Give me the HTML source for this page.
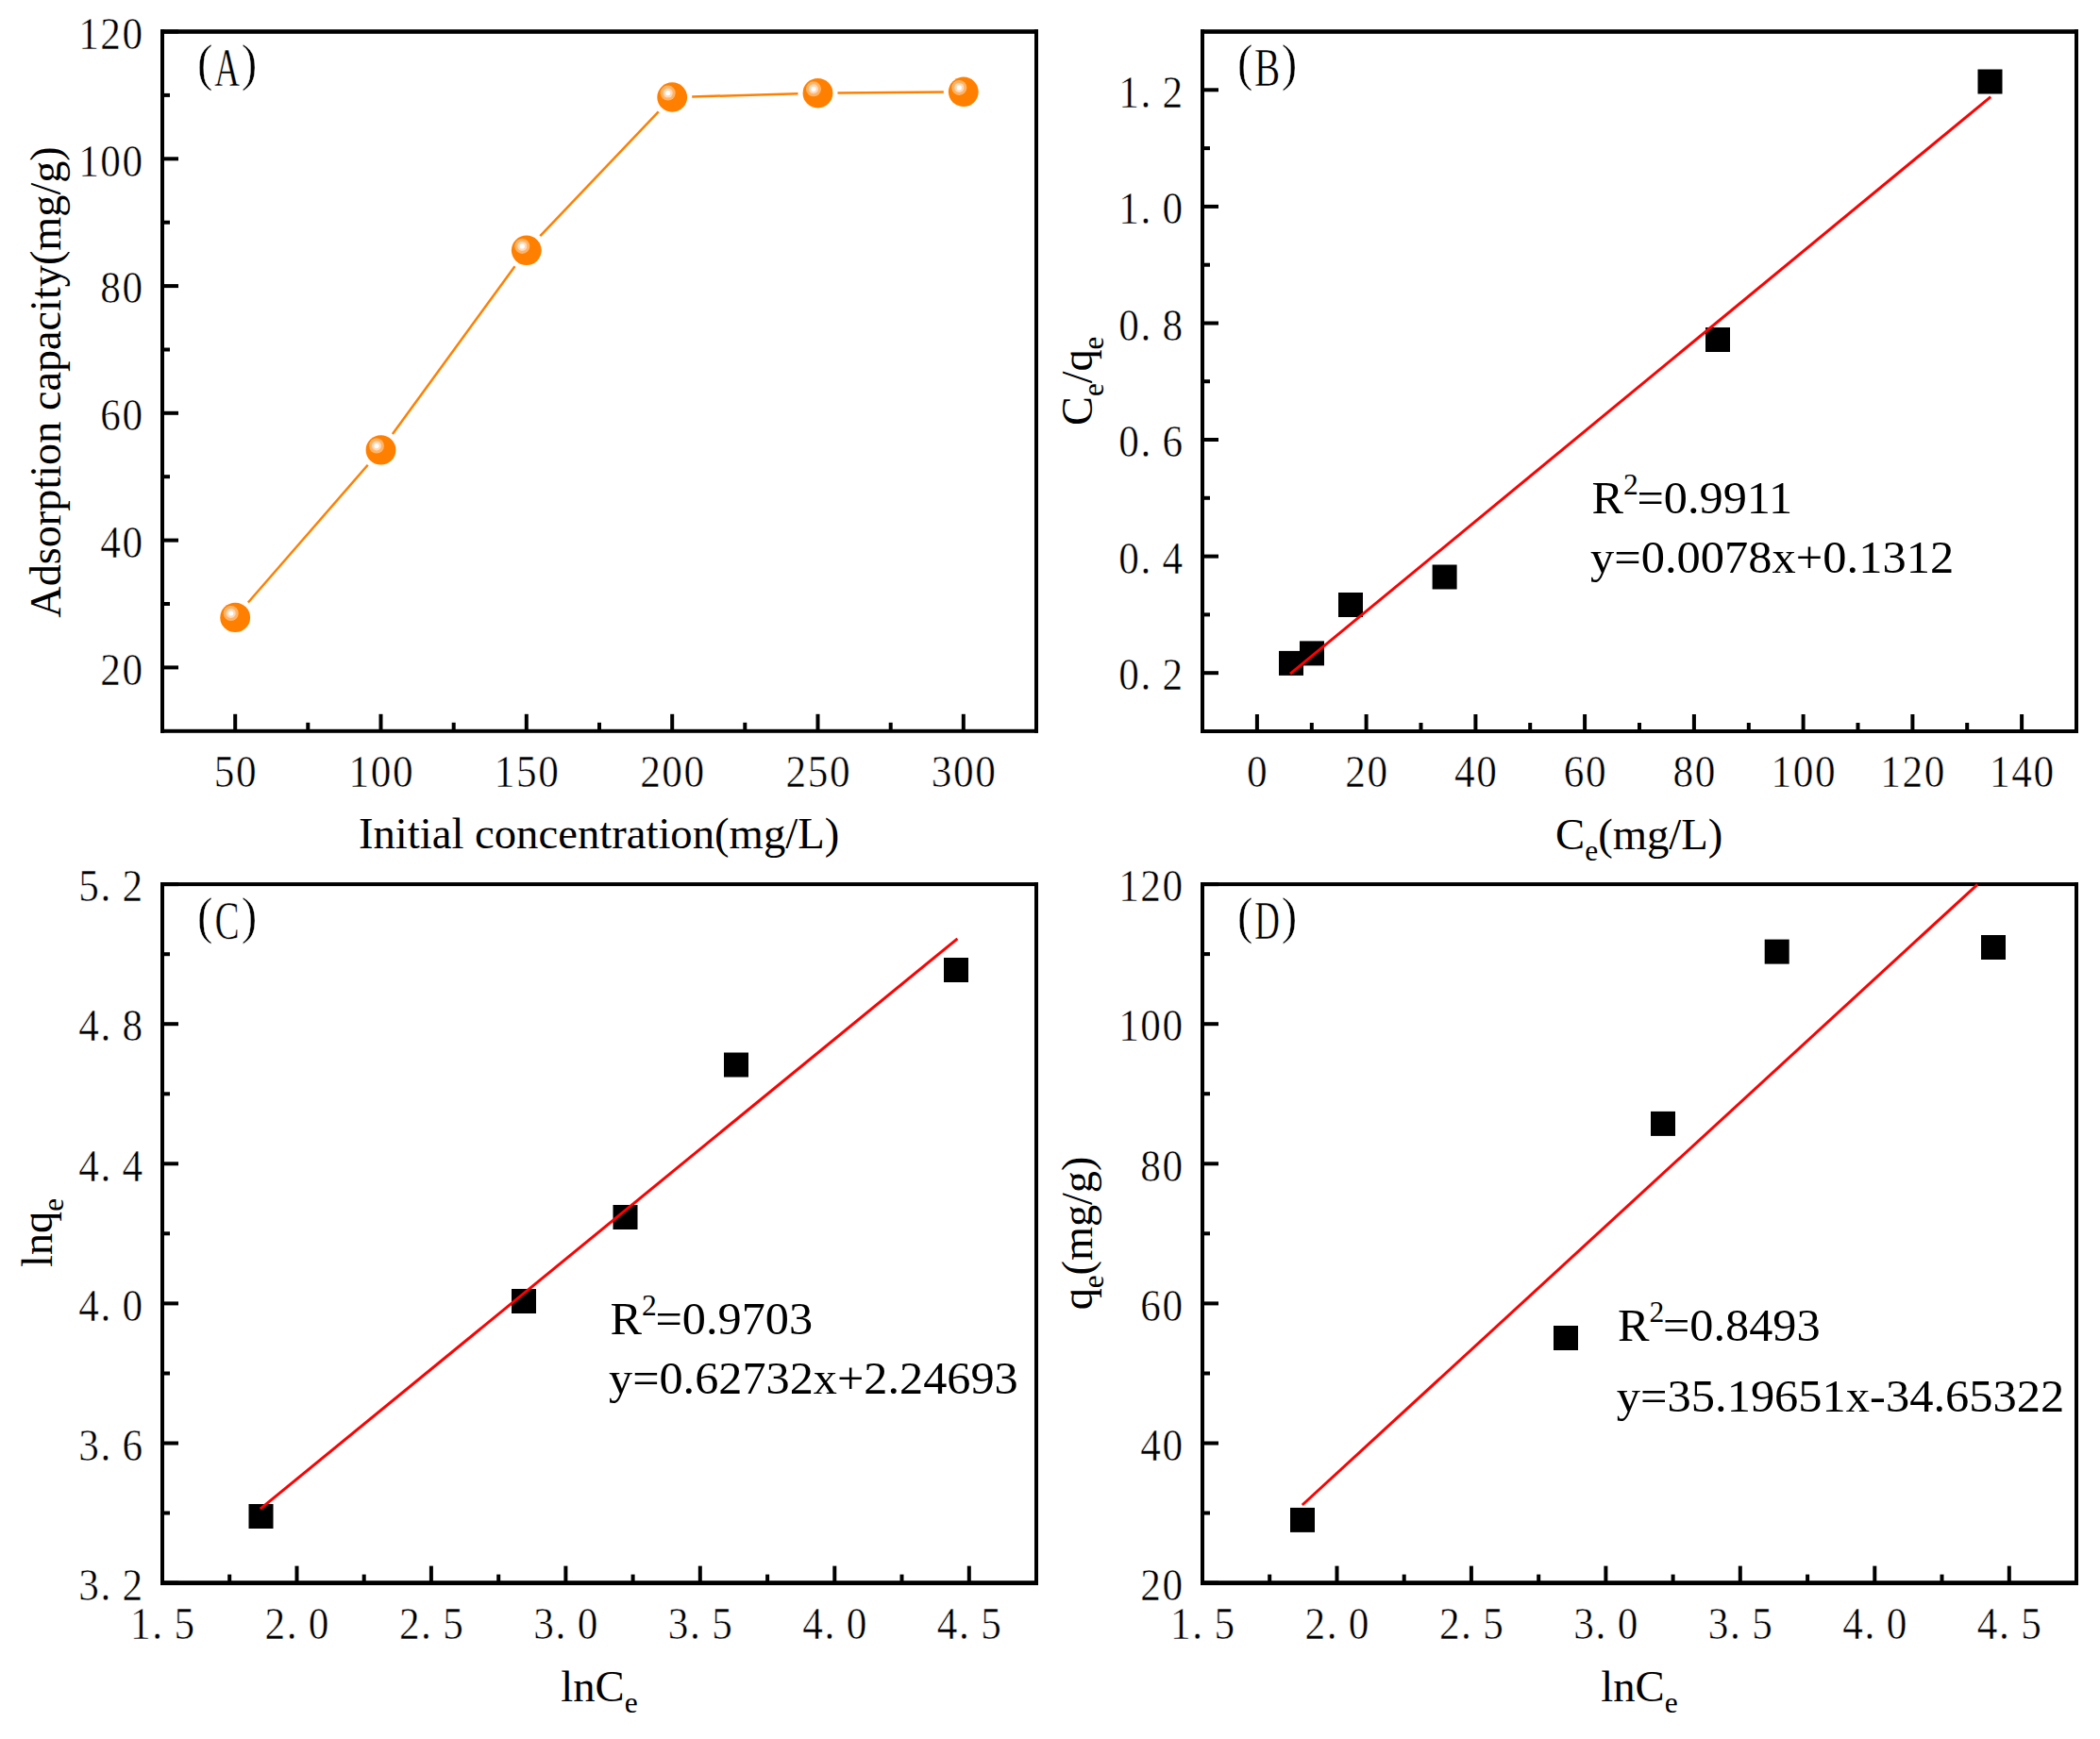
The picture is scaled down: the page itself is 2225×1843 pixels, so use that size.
<!DOCTYPE html>
<html><head><meta charset="utf-8"><title>Adsorption isotherm</title>
<style>
html,body{margin:0;padding:0;background:#fff;}
svg{display:block;}
.tk{font-family:"Liberation Serif", serif;font-size:47.8px;fill:#000;stroke:#fff;stroke-width:0.5px;}
.tag{font-family:"Liberation Serif", serif;font-size:56px;fill:#000;stroke:#fff;stroke-width:0.5px;}
.ax{font-family:"Liberation Serif", serif;font-size:45.9px;fill:#000;}
.sub{font-size:31px;}
.sup{font-size:31px;}
.an{font-family:"Liberation Serif", serif;font-size:49.4px;fill:#000;}
</style></head><body>
<svg width="2225" height="1843" viewBox="0 0 2225 1843">
<rect width="2225" height="1843" fill="#fff"/>

<line x1="262.9" y1="638.5" x2="389.7" y2="492.8" stroke="#ff8000" stroke-width="2.5"/>
<line x1="415.9" y1="460.0" x2="545.5" y2="282.3" stroke="#ff8000" stroke-width="2.5"/>
<line x1="572.3" y1="250.1" x2="697.7" y2="118.3" stroke="#ff8000" stroke-width="2.5"/>
<line x1="733.2" y1="102.5" x2="845.5" y2="99.3" stroke="#ff8000" stroke-width="2.5"/>
<line x1="887.5" y1="98.5" x2="999.8" y2="97.5" stroke="#ff8000" stroke-width="2.5"/>
<ellipse cx="249.2" cy="654.4" rx="15.9" ry="15.7" fill="#ff8000"/>
<circle cx="244.7" cy="650.0" r="8" fill="#ffb366"/>
<circle cx="244.7" cy="650.0" r="5" fill="#ffd9b8"/>
<circle cx="244.7" cy="650.0" r="2.6" fill="#fff"/>
<ellipse cx="403.5" cy="476.9" rx="15.9" ry="15.7" fill="#ff8000"/>
<circle cx="399.0" cy="472.5" r="8" fill="#ffb366"/>
<circle cx="399.0" cy="472.5" r="5" fill="#ffd9b8"/>
<circle cx="399.0" cy="472.5" r="2.6" fill="#fff"/>
<ellipse cx="557.8" cy="265.3" rx="15.9" ry="15.7" fill="#ff8000"/>
<circle cx="553.3" cy="260.9" r="8" fill="#ffb366"/>
<circle cx="553.3" cy="260.9" r="5" fill="#ffd9b8"/>
<circle cx="553.3" cy="260.9" r="2.6" fill="#fff"/>
<ellipse cx="712.2" cy="103.0" rx="15.9" ry="15.7" fill="#ff8000"/>
<circle cx="707.7" cy="98.6" r="8" fill="#ffb366"/>
<circle cx="707.7" cy="98.6" r="5" fill="#ffd9b8"/>
<circle cx="707.7" cy="98.6" r="2.6" fill="#fff"/>
<ellipse cx="866.5" cy="98.7" rx="15.9" ry="15.7" fill="#ff8000"/>
<circle cx="862.0" cy="94.3" r="8" fill="#ffb366"/>
<circle cx="862.0" cy="94.3" r="5" fill="#ffd9b8"/>
<circle cx="862.0" cy="94.3" r="2.6" fill="#fff"/>
<ellipse cx="1020.8" cy="97.3" rx="15.9" ry="15.7" fill="#ff8000"/>
<circle cx="1016.3" cy="92.9" r="8" fill="#ffb366"/>
<circle cx="1016.3" cy="92.9" r="5" fill="#ffd9b8"/>
<circle cx="1016.3" cy="92.9" r="2.6" fill="#fff"/>
<rect x="170" y="31.2" width="930" height="4.6" fill="#000"/>
<rect x="170" y="772.8" width="930" height="4.0" fill="#000"/>
<rect x="170" y="31.2" width="4" height="745.6" fill="#000"/>
<rect x="1096" y="31.2" width="4" height="745.6" fill="#000"/>
<rect x="247.2" y="756.8" width="4" height="18" fill="#000"/>
<rect x="401.5" y="756.8" width="4" height="18" fill="#000"/>
<rect x="555.8" y="756.8" width="4" height="18" fill="#000"/>
<rect x="710.2" y="756.8" width="4" height="18" fill="#000"/>
<rect x="864.5" y="756.8" width="4" height="18" fill="#000"/>
<rect x="1018.8" y="756.8" width="4" height="18" fill="#000"/>
<rect x="324.3" y="765.8" width="4" height="9" fill="#000"/>
<rect x="478.7" y="765.8" width="4" height="9" fill="#000"/>
<rect x="633.0" y="765.8" width="4" height="9" fill="#000"/>
<rect x="787.3" y="765.8" width="4" height="9" fill="#000"/>
<rect x="941.7" y="765.8" width="4" height="9" fill="#000"/>
<text class="tk" transform="scale(0.905,1)" x="250.55 276.19" y="833.8">50</text>
<text class="tk" transform="scale(0.905,1)" x="408.27 433.91 459.54" y="833.8">100</text>
<text class="tk" transform="scale(0.905,1)" x="578.81 604.44 630.08" y="833.8">150</text>
<text class="tk" transform="scale(0.905,1)" x="749.34 774.97 800.61" y="833.8">200</text>
<text class="tk" transform="scale(0.905,1)" x="919.87 945.51 971.14" y="833.8">250</text>
<text class="tk" transform="scale(0.905,1)" x="1090.41 1116.04 1141.68" y="833.8">300</text>
<rect x="172" y="705.4" width="17" height="4" fill="#000"/>
<rect x="172" y="570.6" width="17" height="4" fill="#000"/>
<rect x="172" y="435.8" width="17" height="4" fill="#000"/>
<rect x="172" y="301.1" width="17" height="4" fill="#000"/>
<rect x="172" y="166.3" width="17" height="4" fill="#000"/>
<rect x="172" y="31.5" width="17" height="4" fill="#000"/>
<rect x="172" y="638.0" width="8" height="4" fill="#000"/>
<rect x="172" y="503.2" width="8" height="4" fill="#000"/>
<rect x="172" y="368.5" width="8" height="4" fill="#000"/>
<rect x="172" y="233.7" width="8" height="4" fill="#000"/>
<rect x="172" y="98.9" width="8" height="4" fill="#000"/>
<text class="tk" transform="scale(0.905,1)" x="117.55 143.19" y="725.7">20</text>
<text class="tk" transform="scale(0.905,1)" x="117.55 143.19" y="590.9">40</text>
<text class="tk" transform="scale(0.905,1)" x="117.55 143.19" y="456.1">60</text>
<text class="tk" transform="scale(0.905,1)" x="117.55 143.19" y="321.4">80</text>
<text class="tk" transform="scale(0.905,1)" x="91.92 117.55 143.19" y="186.6">100</text>
<text class="tk" transform="scale(0.905,1)" x="91.92 117.55 143.19" y="51.8">120</text>
<g class="tag"><text style="font-size:55px" transform="translate(225.4,85.3) scale(0.9,1)" text-anchor="end">(</text><text transform="translate(240.6,91.0) scale(0.66,1)" text-anchor="middle">A</text><text style="font-size:55px" transform="translate(255.8,85.3) scale(0.9,1)" text-anchor="start">)</text></g>
<text class="ax" transform="translate(634.6,899.4) scale(1.017,1)" text-anchor="middle">Initial concentration(mg/L)</text>
<text class="ax" transform="translate(63.5,405.0) rotate(-90) scale(1,1.01)" style="font-size:46.25px" text-anchor="middle">Adsorption capacity(mg/g)</text>
<rect x="1355.0" y="689.9" width="26" height="26" fill="#000"/>
<rect x="1377.0" y="679.4" width="26" height="26" fill="#000"/>
<rect x="1418.0" y="628.0" width="26" height="26" fill="#000"/>
<rect x="1517.6" y="598.5" width="26" height="26" fill="#000"/>
<rect x="1807.0" y="347.0" width="26" height="26" fill="#000"/>
<rect x="2095.5" y="73.5" width="26" height="26" fill="#000"/>
<line x1="1367.0" y1="714.2" x2="2109.2" y2="102.6" stroke="#ff0000" stroke-width="3"/>
<rect x="1272" y="31.2" width="930" height="4.6" fill="#000"/>
<rect x="1272" y="773.0" width="930" height="4.0" fill="#000"/>
<rect x="1272" y="31.2" width="4" height="745.8" fill="#000"/>
<rect x="2198" y="31.2" width="4" height="745.8" fill="#000"/>
<rect x="1329.9" y="757.0" width="4" height="18" fill="#000"/>
<rect x="1445.6" y="757.0" width="4" height="18" fill="#000"/>
<rect x="1561.4" y="757.0" width="4" height="18" fill="#000"/>
<rect x="1677.1" y="757.0" width="4" height="18" fill="#000"/>
<rect x="1792.9" y="757.0" width="4" height="18" fill="#000"/>
<rect x="1908.6" y="757.0" width="4" height="18" fill="#000"/>
<rect x="2024.4" y="757.0" width="4" height="18" fill="#000"/>
<rect x="2140.1" y="757.0" width="4" height="18" fill="#000"/>
<rect x="1387.8" y="766.0" width="4" height="9" fill="#000"/>
<rect x="1503.5" y="766.0" width="4" height="9" fill="#000"/>
<rect x="1619.2" y="766.0" width="4" height="9" fill="#000"/>
<rect x="1735.0" y="766.0" width="4" height="9" fill="#000"/>
<rect x="1850.8" y="766.0" width="4" height="9" fill="#000"/>
<rect x="1966.5" y="766.0" width="4" height="9" fill="#000"/>
<rect x="2082.2" y="766.0" width="4" height="9" fill="#000"/>
<text class="tk" transform="scale(0.905,1)" x="1459.74" y="834.0">0</text>
<text class="tk" transform="scale(0.905,1)" x="1574.82 1600.45" y="834.0">20</text>
<text class="tk" transform="scale(0.905,1)" x="1702.72 1728.35" y="834.0">40</text>
<text class="tk" transform="scale(0.905,1)" x="1830.62 1856.25" y="834.0">60</text>
<text class="tk" transform="scale(0.905,1)" x="1958.52 1984.15" y="834.0">80</text>
<text class="tk" transform="scale(0.905,1)" x="2073.60 2099.24 2124.87" y="834.0">100</text>
<text class="tk" transform="scale(0.905,1)" x="2201.50 2227.14 2252.77" y="834.0">120</text>
<text class="tk" transform="scale(0.905,1)" x="2329.40 2355.04 2380.67" y="834.0">140</text>
<rect x="1274" y="711.2" width="17" height="4" fill="#000"/>
<rect x="1274" y="587.6" width="17" height="4" fill="#000"/>
<rect x="1274" y="464.0" width="17" height="4" fill="#000"/>
<rect x="1274" y="340.5" width="17" height="4" fill="#000"/>
<rect x="1274" y="216.9" width="17" height="4" fill="#000"/>
<rect x="1274" y="93.3" width="17" height="4" fill="#000"/>
<rect x="1274" y="649.4" width="8" height="4" fill="#000"/>
<rect x="1274" y="525.8" width="8" height="4" fill="#000"/>
<rect x="1274" y="402.2" width="8" height="4" fill="#000"/>
<rect x="1274" y="278.7" width="8" height="4" fill="#000"/>
<rect x="1274" y="155.1" width="8" height="4" fill="#000"/>
<text class="tk" transform="scale(0.905,1)" x="1309.60 1335.25 1360.87" y="731.5">0.2</text>
<text class="tk" transform="scale(0.905,1)" x="1309.60 1335.25 1360.87" y="607.9">0.4</text>
<text class="tk" transform="scale(0.905,1)" x="1309.60 1335.25 1360.87" y="484.3">0.6</text>
<text class="tk" transform="scale(0.905,1)" x="1309.60 1335.25 1360.87" y="360.8">0.8</text>
<text class="tk" transform="scale(0.905,1)" x="1309.60 1335.25 1360.87" y="237.2">1.0</text>
<text class="tk" transform="scale(0.905,1)" x="1309.60 1335.25 1360.87" y="113.6">1.2</text>
<g class="tag"><text style="font-size:55px" transform="translate(1327.4,85.3) scale(0.9,1)" text-anchor="end">(</text><text transform="translate(1342.6,91.0) scale(0.73,1)" text-anchor="middle">B</text><text style="font-size:55px" transform="translate(1357.8,85.3) scale(0.9,1)" text-anchor="start">)</text></g>
<text class="ax" transform="translate(1736.7,899.8) scale(1.017,1)" text-anchor="middle">C<tspan class="sub" dy="12">e</tspan><tspan dy="-12">(mg/L)</tspan></text>
<text class="ax" transform="translate(1157.0,403.8) rotate(-90) scale(1,1.01)" style="font-size:46.25px" text-anchor="middle">C<tspan class="sub" dy="12">e</tspan><tspan dy="-12">/q</tspan><tspan class="sub" dy="12">e</tspan></text>
<text class="an" transform="translate(1686.5,544.3) scale(1.017,1)" text-anchor="start">R<tspan class="sup" dy="-20">2</tspan><tspan dy="20" dx="-1.2">=0.9911</tspan></text>
<text class="an" transform="translate(1685.0,607.1) scale(1.0225,1)" text-anchor="start">y=0.0078x+0.1312</text>
<rect x="263.5" y="1594.0" width="26" height="26" fill="#000"/>
<rect x="542.0" y="1366.0" width="26" height="26" fill="#000"/>
<rect x="649.5" y="1277.0" width="26" height="26" fill="#000"/>
<rect x="767.0" y="1115.5" width="26" height="26" fill="#000"/>
<rect x="1000.0" y="1015.0" width="26" height="26" fill="#000"/>
<line x1="275.8" y1="1599.1" x2="1014.4" y2="994.8" stroke="#ff0000" stroke-width="3"/>
<rect x="170" y="935.1" width="930" height="4.0" fill="#000"/>
<rect x="170" y="1675.2" width="930" height="4.8" fill="#000"/>
<rect x="170" y="935.1" width="4" height="744.9" fill="#000"/>
<rect x="1096" y="935.1" width="4" height="744.9" fill="#000"/>
<rect x="170.0" y="1659.6" width="4" height="18" fill="#000"/>
<rect x="312.5" y="1659.6" width="4" height="18" fill="#000"/>
<rect x="454.9" y="1659.6" width="4" height="18" fill="#000"/>
<rect x="597.4" y="1659.6" width="4" height="18" fill="#000"/>
<rect x="739.8" y="1659.6" width="4" height="18" fill="#000"/>
<rect x="882.3" y="1659.6" width="4" height="18" fill="#000"/>
<rect x="1024.8" y="1659.6" width="4" height="18" fill="#000"/>
<rect x="241.2" y="1668.6" width="4" height="9" fill="#000"/>
<rect x="383.7" y="1668.6" width="4" height="9" fill="#000"/>
<rect x="526.2" y="1668.6" width="4" height="9" fill="#000"/>
<rect x="668.6" y="1668.6" width="4" height="9" fill="#000"/>
<rect x="811.1" y="1668.6" width="4" height="9" fill="#000"/>
<rect x="953.5" y="1668.6" width="4" height="9" fill="#000"/>
<text class="tk" transform="scale(0.905,1)" x="152.47 178.12 203.74" y="1736.6">1.5</text>
<text class="tk" transform="scale(0.905,1)" x="309.89 335.54 361.16" y="1736.6">2.0</text>
<text class="tk" transform="scale(0.905,1)" x="467.30 492.95 518.57" y="1736.6">2.5</text>
<text class="tk" transform="scale(0.905,1)" x="624.72 650.37 675.99" y="1736.6">3.0</text>
<text class="tk" transform="scale(0.905,1)" x="782.13 807.79 833.40" y="1736.6">3.5</text>
<text class="tk" transform="scale(0.905,1)" x="939.55 965.20 990.82" y="1736.6">4.0</text>
<text class="tk" transform="scale(0.905,1)" x="1096.97 1122.62 1148.24" y="1736.6">4.5</text>
<rect x="172" y="1675.6" width="17" height="4" fill="#000"/>
<rect x="172" y="1527.5" width="17" height="4" fill="#000"/>
<rect x="172" y="1379.4" width="17" height="4" fill="#000"/>
<rect x="172" y="1231.3" width="17" height="4" fill="#000"/>
<rect x="172" y="1083.2" width="17" height="4" fill="#000"/>
<rect x="172" y="935.1" width="17" height="4" fill="#000"/>
<rect x="172" y="1601.5" width="8" height="4" fill="#000"/>
<rect x="172" y="1453.5" width="8" height="4" fill="#000"/>
<rect x="172" y="1305.3" width="8" height="4" fill="#000"/>
<rect x="172" y="1157.3" width="8" height="4" fill="#000"/>
<rect x="172" y="1009.2" width="8" height="4" fill="#000"/>
<text class="tk" transform="scale(0.905,1)" x="91.92 117.57 143.19" y="1695.9">3.2</text>
<text class="tk" transform="scale(0.905,1)" x="91.92 117.57 143.19" y="1547.8">3.6</text>
<text class="tk" transform="scale(0.905,1)" x="91.92 117.57 143.19" y="1399.7">4.0</text>
<text class="tk" transform="scale(0.905,1)" x="91.92 117.57 143.19" y="1251.6">4.4</text>
<text class="tk" transform="scale(0.905,1)" x="91.92 117.57 143.19" y="1103.5">4.8</text>
<text class="tk" transform="scale(0.905,1)" x="91.92 117.57 143.19" y="955.4">5.2</text>
<g class="tag"><text style="font-size:55px" transform="translate(225.4,988.9) scale(0.9,1)" text-anchor="end">(</text><text transform="translate(240.6,994.6) scale(0.7,1)" text-anchor="middle">C</text><text style="font-size:55px" transform="translate(255.8,988.9) scale(0.9,1)" text-anchor="start">)</text></g>
<text class="ax" transform="translate(635.0,1803.0) scale(1.017,1)" text-anchor="middle">lnC<tspan class="sub" dy="12">e</tspan></text>
<text class="ax" transform="translate(54.9,1306.5) rotate(-90) scale(1,1.01)" style="font-size:46.25px" text-anchor="middle">lnq<tspan class="sub" dy="12">e</tspan></text>
<text class="an" transform="translate(646.5,1413.8) scale(1.017,1)" text-anchor="start">R<tspan class="sup" dy="-20">2</tspan><tspan dy="20" dx="-1.2">=0.9703</tspan></text>
<text class="an" transform="translate(645.0,1476.5) scale(1.018,1)" text-anchor="start">y=0.62732x+2.24693</text>
<rect x="1367.0" y="1597.9" width="26" height="26" fill="#000"/>
<rect x="1646.0" y="1405.0" width="26" height="26" fill="#000"/>
<rect x="1749.0" y="1177.9" width="26" height="26" fill="#000"/>
<rect x="1869.7" y="995.6" width="26" height="26" fill="#000"/>
<rect x="2099.0" y="991.0" width="26" height="26" fill="#000"/>
<rect x="1272" y="935.1" width="930" height="4.0" fill="#000"/>
<rect x="1272" y="1675.2" width="930" height="4.8" fill="#000"/>
<rect x="1272" y="935.1" width="4" height="744.9" fill="#000"/>
<rect x="2198" y="935.1" width="4" height="744.9" fill="#000"/>
<line x1="1379.8" y1="1595.0" x2="2095.2" y2="937.3" stroke="#ff0000" stroke-width="3"/>
<rect x="1272.0" y="1659.6" width="4" height="18" fill="#000"/>
<rect x="1414.5" y="1659.6" width="4" height="18" fill="#000"/>
<rect x="1556.9" y="1659.6" width="4" height="18" fill="#000"/>
<rect x="1699.4" y="1659.6" width="4" height="18" fill="#000"/>
<rect x="1841.8" y="1659.6" width="4" height="18" fill="#000"/>
<rect x="1984.3" y="1659.6" width="4" height="18" fill="#000"/>
<rect x="2126.8" y="1659.6" width="4" height="18" fill="#000"/>
<rect x="1343.2" y="1668.6" width="4" height="9" fill="#000"/>
<rect x="1485.7" y="1668.6" width="4" height="9" fill="#000"/>
<rect x="1628.2" y="1668.6" width="4" height="9" fill="#000"/>
<rect x="1770.6" y="1668.6" width="4" height="9" fill="#000"/>
<rect x="1913.1" y="1668.6" width="4" height="9" fill="#000"/>
<rect x="2055.5" y="1668.6" width="4" height="9" fill="#000"/>
<text class="tk" transform="scale(0.905,1)" x="1370.15 1395.80 1421.42" y="1736.6">1.5</text>
<text class="tk" transform="scale(0.905,1)" x="1527.57 1553.22 1578.84" y="1736.6">2.0</text>
<text class="tk" transform="scale(0.905,1)" x="1684.98 1710.63 1736.25" y="1736.6">2.5</text>
<text class="tk" transform="scale(0.905,1)" x="1842.40 1868.05 1893.67" y="1736.6">3.0</text>
<text class="tk" transform="scale(0.905,1)" x="1999.81 2025.47 2051.08" y="1736.6">3.5</text>
<text class="tk" transform="scale(0.905,1)" x="2157.23 2182.88 2208.50" y="1736.6">4.0</text>
<text class="tk" transform="scale(0.905,1)" x="2314.65 2340.30 2365.92" y="1736.6">4.5</text>
<rect x="1274" y="1675.6" width="17" height="4" fill="#000"/>
<rect x="1274" y="1527.5" width="17" height="4" fill="#000"/>
<rect x="1274" y="1379.4" width="17" height="4" fill="#000"/>
<rect x="1274" y="1231.3" width="17" height="4" fill="#000"/>
<rect x="1274" y="1083.2" width="17" height="4" fill="#000"/>
<rect x="1274" y="935.1" width="17" height="4" fill="#000"/>
<rect x="1274" y="1601.5" width="8" height="4" fill="#000"/>
<rect x="1274" y="1453.5" width="8" height="4" fill="#000"/>
<rect x="1274" y="1305.3" width="8" height="4" fill="#000"/>
<rect x="1274" y="1157.2" width="8" height="4" fill="#000"/>
<rect x="1274" y="1009.1" width="8" height="4" fill="#000"/>
<text class="tk" transform="scale(0.905,1)" x="1335.23 1360.87" y="1695.9">20</text>
<text class="tk" transform="scale(0.905,1)" x="1335.23 1360.87" y="1547.8">40</text>
<text class="tk" transform="scale(0.905,1)" x="1335.23 1360.87" y="1399.7">60</text>
<text class="tk" transform="scale(0.905,1)" x="1335.23 1360.87" y="1251.6">80</text>
<text class="tk" transform="scale(0.905,1)" x="1309.60 1335.23 1360.87" y="1103.5">100</text>
<text class="tk" transform="scale(0.905,1)" x="1309.60 1335.23 1360.87" y="955.4">120</text>
<g class="tag"><text style="font-size:55px" transform="translate(1327.4,988.9) scale(0.9,1)" text-anchor="end">(</text><text transform="translate(1342.6,994.6) scale(0.66,1)" text-anchor="middle">D</text><text style="font-size:55px" transform="translate(1357.8,988.9) scale(0.9,1)" text-anchor="start">)</text></g>
<text class="ax" transform="translate(1737.0,1803.0) scale(1.017,1)" text-anchor="middle">lnC<tspan class="sub" dy="12">e</tspan></text>
<text class="ax" transform="translate(1156.5,1307.0) rotate(-90) scale(1,1.01)" style="font-size:46.25px" text-anchor="middle">q<tspan class="sub" dy="12">e</tspan><tspan dy="-12">(mg/g)</tspan></text>
<text class="an" transform="translate(1714.0,1421.4) scale(1.017,1)" text-anchor="start">R<tspan class="sup" dy="-20">2</tspan><tspan dy="20" dx="-1.2">=0.8493</tspan></text>
<text class="an" transform="translate(1712.8,1495.7) scale(1.0225,1)" text-anchor="start">y=35.19651x-34.65322</text>
</svg>
</body></html>
